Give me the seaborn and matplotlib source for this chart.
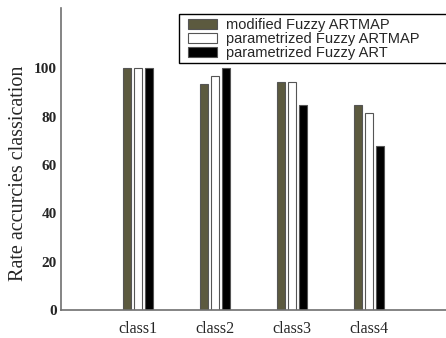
import pandas as pd
import matplotlib
matplotlib.use("Agg")
import matplotlib.pyplot as plt
from matplotlib.patches import Rectangle
import seaborn as sns

# values
classes = ["class1", "class2", "class3", "class4"]
methods = ["modified Fuzzy ARTMAP", "parametrized Fuzzy ARTMAP", "parametrized Fuzzy ART"]
modified_artmap = [100.0, 93.4, 94.2, 84.7]
param_artmap = [100.0, 96.7, 94.2, 81.4]
param_art = [100.0, 100.0, 84.7, 67.7]

df = pd.DataFrame({
    "cls": classes * 3,
    "method": [methods[0]] * 4 + [methods[1]] * 4 + [methods[2]] * 4,
    "rate": modified_artmap + param_artmap + param_art,
})

sns.set_style("white")
palette = {methods[0]: "#5c5a3f", methods[1]: "#ffffff", methods[2]: "#000000"}

fig = plt.figure(figsize=(4.46, 3.38), dpi=100)
ax = fig.add_axes([61 / 446, 28 / 338, 385 / 446, 302 / 338])

sns.barplot(data=df, x="cls", y="rate", hue="method", order=classes,
            hue_order=methods, palette=palette, width=0.42, gap=0.22,
            edgecolor="#555555", linewidth=0.8, saturation=1, ax=ax)

ax.set_xlim(-1, 4)
ax.set_ylim(0, 125)
ax.set_yticks([0, 20, 40, 60, 80, 100])
ax.set_xlabel("")
ax.set_ylabel("Rate accurcies classication", fontfamily="Liberation Serif",
              fontsize=14.5)
ax.yaxis.set_label_coords(-0.086, 0.454)

for lab in ax.get_yticklabels():
    lab.set_fontfamily("Liberation Serif")
    lab.set_fontweight("bold")
    lab.set_fontsize(11)
for lab in ax.get_xticklabels():
    lab.set_fontfamily("Liberation Serif")
    lab.set_fontsize(11.5)

ax.tick_params(axis="y", direction="in", length=2.5, width=0.8, color="#808080", pad=3)
ax.tick_params(axis="x", length=0, pad=8)

for side in ["top", "right"]:
    ax.spines[side].set_visible(False)
for side in ["left", "bottom"]:
    ax.spines[side].set_color("#707070")
    ax.spines[side].set_linewidth(1.2)

# legend without its own frame; the box is drawn separately so it can run off the right edge
leg = ax.legend(loc="upper left", bbox_to_anchor=(188 / 446, 1 - 18 / 338),
                bbox_transform=fig.transFigure, frameon=False,
                prop={"family": "Liberation Sans", "size": 10.5},
                handlelength=2.0, handleheight=0.75, handletextpad=0.6,
                labelspacing=0.0, borderpad=0, borderaxespad=0)
for h in leg.legend_handles:
    h.set_edgecolor("#555555")

box = Rectangle((179 / 446, 1 - 63 / 338), 300 / 446, 49 / 338, transform=fig.transFigure,
                fill=True, facecolor="white", edgecolor="black", linewidth=1.0, zorder=4)
fig.add_artist(box)
leg.set_zorder(5)
fig.add_artist(leg)

fig.savefig("out.png", dpi=100)
